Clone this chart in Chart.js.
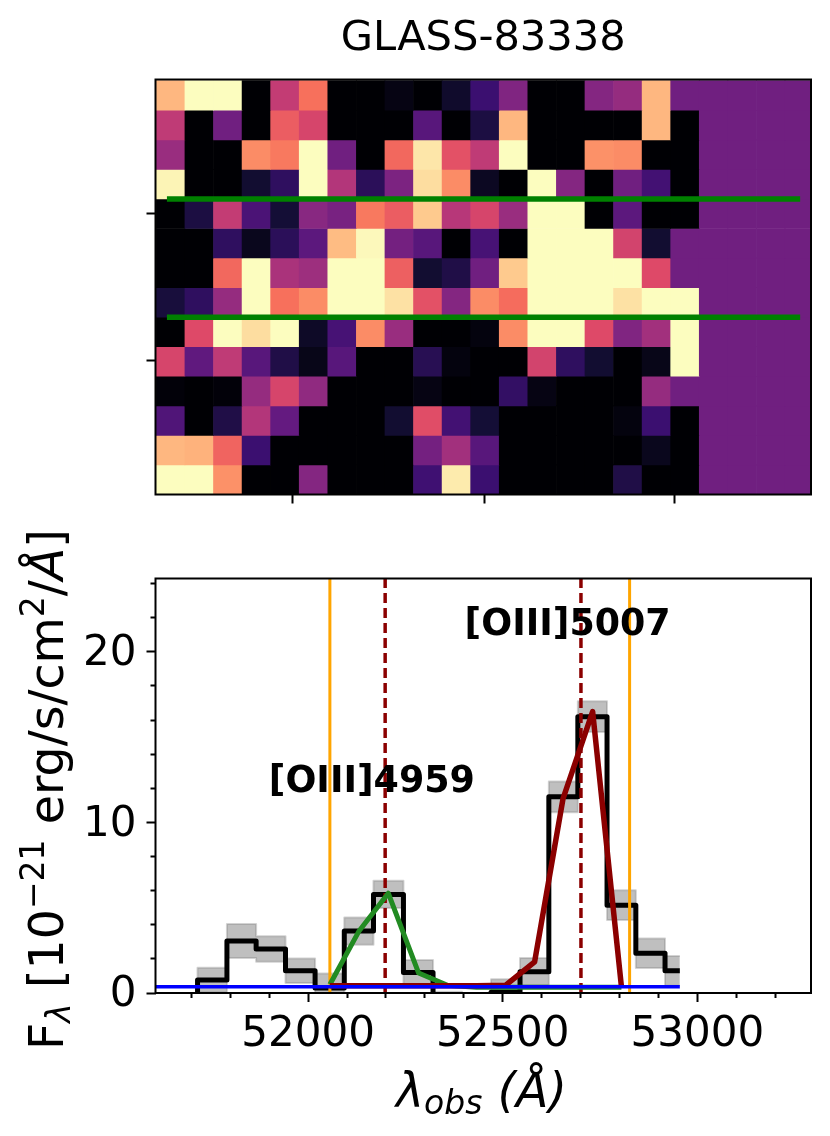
<!DOCTYPE html>
<html>
<head>
<meta charset="utf-8">
<style>
    html, body { margin: 0; padding: 0; background: #fff; }
    #wrap { position: relative; width: 830px; height: 1136px; overflow: hidden; }
    canvas { position: absolute; left: 0; display: block; }
</style>
</head>
<body>
<div id="wrap">
    <canvas id="imageChart" width="830" height="530" style="top:0"></canvas>
    <canvas id="specChart" width="830" height="606" style="top:530px"></canvas>
</div>
<script src="https://cdn.jsdelivr.net/npm/chart.js@4"></script>
<script>
const chartTitle = 'GLASS-83338';

// 2D spectrum cutout, normalised 0-1, top row first
const cutoutRows = [
    [.85, 1, 1, 0, .53, .70, 0, 0, .03, 0, .08, .20, .37, 0, 0, .38, .42, .85, .33, .33, .33, .33, .33],
    [.52, 0, .33, 0, .65, .58, 0, 0, 0, .27, 0, .12, .85, 0, 0, 0, 0, .85, 0, .33, .33, .33, .33],
    [.43, 0, 0, .76, .72, 1, .33, 0, .68, .95, .62, .52, 1, 0, 0, .77, .76, 0, 0, .33, .33, .33, .33],
    [.98, 0, 0, .09, .17, 1, .49, .16, .36, .93, .76, .06, 0, 1, .38, 0, .33, .22, 0, .33, .33, .33, .33],
    [0, .12, .53, .24, .10, .39, .35, .72, .65, .89, .50, .58, .43, 1, 1, 0, .28, 0, 0, .33, .33, .33, .33],
    [0, 0, .17, .05, .16, .28, .86, .99, .34, .27, 0, .23, 0, 1, 1, 1, .57, .09, .33, .33, .33, .33, .33],
    [0, 0, .68, 1, .47, .44, 1, 1, .66, .09, .13, .33, .89, 1, 1, 1, 1, .60, .33, .33, .33, .33, .33],
    [.11, .17, .42, 1, .70, .76, 1, 1, .94, .62, .38, .76, .69, 1, 1, 1, .94, 1, 1, .33, .33, .33, .33],
    [0, .60, 1, .93, 1, .07, .23, .76, .43, 0, 0, .02, .76, 1, 1, .60, .37, .45, 1, .33, .33, .33, .33],
    [.58, .29, .52, .27, .13, .04, .27, 0, 0, .15, .02, 0, 0, .57, .17, .09, 0, .04, 1, .33, .33, .33, .33],
    [.01, 0, .01, .42, .58, .41, 0, 0, 0, .03, 0, 0, .18, .03, 0, 0, 0, .42, .33, .33, .33, .33, .33],
    [.25, 0, .13, .49, .30, 0, 0, 0, .09, .61, .22, .10, 0, 0, 0, 0, .02, .20, 0, .33, .33, .33, .33],
    [.85, .84, .67, .20, 0, 0, 0, 0, 0, .34, .45, .27, 0, 0, 0, 0, 0, .05, 0, .33, .33, .33, .33],
    [1, 1, .77, 0, 0, .38, 0, 0, 0, .21, .96, .20, 0, 0, 0, 0, .13, 0, 0, .33, .33, .33, .33]
];
const magmaStops = ['#000004', '#140e36', '#3b0f70', '#641a80', '#8c2981', '#b73779', '#de4968', '#f7705c', '#fe9f6d', '#fecf92', '#fcfdbf'];

const apertureRows = [4, 8];
const apertureStart = 0.37;
const apertureEnd = 22.53;
const cutoutTicksX = [4.78, 11.47, 18.12];
const cutoutTicksY = [4.48, 9.45];

// 1D spectrum
const wave = [51678, 51754, 51829, 51904, 51980, 52056, 52130, 52206, 52284, 52358, 52433, 52507, 52582, 52655, 52731, 52805, 52879, 52955];
const flux = [-1.5, 0.76, 3.05, 2.58, 1.3, 0.3, 3.63, 5.78, 1.2, -0.7, -1, 0.05, 1.25, 11.5, 16.2, 5.15, 2.33, 1.3];
const fluxErr = [0.7, 0.72, 1.0, 0.75, 0.72, 0.85, 0.8, 0.8, 0.73, 0.78, 0.8, 0.75, 0.8, 0.9, 0.9, 0.87, 0.87, 0.87];

const modelWave = [52056, 52130, 52206, 52284, 52358, 52433, 52507, 52582, 52655, 52731, 52805];
const model4959 = [0.5, 3.6, 5.85, 1.17, 0.45, 0.33, 0.33, 0.33, 0.33, 0.33, 0.33];
const model5007 = [0.42, 0.42, 0.42, 0.42, 0.42, 0.42, 0.45, 1.83, 11.4, 16.5, 0.37];

const continuumWave = [51600, 52955];
const continuumLevel = [0.37, 0.37];

const windowEdges = [52056, 52826];
const lineCenters = [52198, 52701];
const lineNames = ['[OIII]4959', '[OIII]5007'];
const lineNameX = [51899, 52402];
const lineNameY = [11.8, 21.0];

const xMajor = [52000, 52500, 53000];
const xMinor = [51700, 51800, 51900, 52100, 52200, 52300, 52400, 52600, 52700, 52800, 52900, 53100, 53200];
const yMajor = [0, 10, 20];
const yMinor = [2, 4, 6, 8, 12, 14, 16, 18, 22, 24];

const FONT = '"DejaVu Sans"';

function magma(v) {
    const pos = Math.min(Math.max(v, 0), 1) * (magmaStops.length - 1);
    const i = Math.min(Math.floor(pos), magmaStops.length - 2);
    const t = pos - i;
    const a = parseInt(magmaStops[i].slice(1), 16);
    const b = parseInt(magmaStops[i + 1].slice(1), 16);
    const mix = shift => Math.round(((a >> shift) & 255) * (1 - t) + ((b >> shift) & 255) * t);
    return `rgb(${mix(16)},${mix(8)},${mix(0)})`;
}

function pairs(xs, ys) {
    return xs.map((x, i) => ({ x: x, y: ys[i] }));
}

// axis that only draws tick marks; size is the room it keeps outside the plot
function tickAxis(position, min, max, values, length, size, extra) {
    const horizontal = position === 'bottom';
    return Object.assign({
        type: 'linear',
        position: position,
        min: min,
        max: max,
        offset: false,
        afterBuildTicks: axis => { axis.ticks = values.map(v => ({ value: v })); },
        afterFit: axis => {
            if (horizontal) axis.height = size; else axis.width = size;
        },
        grid: { offset: false, drawOnChartArea: false, drawTicks: true, tickLength: length, tickWidth: 2, tickColor: '#000' },
        border: { display: false },
        ticks: { display: false }
    }, extra || {});
}

const framePlugin = {
    id: 'frame',
    afterDraw(chart) {
        const a = chart.chartArea, ctx = chart.ctx;
        ctx.save();
        ctx.strokeStyle = '#000';
        ctx.lineWidth = 2;
        ctx.strokeRect(a.left, a.top, a.right - a.left, a.bottom - a.top);
        ctx.restore();
    }
};

// mathtext-like runs of text, one after the other along the baseline
function drawRuns(ctx, x, y, angle, runs) {
    ctx.save();
    ctx.translate(x, y);
    ctx.rotate(angle);
    ctx.fillStyle = '#000';
    ctx.textBaseline = 'alphabetic';
    ctx.textAlign = 'left';
    let pen = 0;
    runs.forEach(r => {
        ctx.font = `${r.italic ? 'italic ' : ''}${r.size}px ${FONT}`;
        ctx.fillText(r.text, pen, r.dy || 0);
        pen += ctx.measureText(r.text).width;
    });
    ctx.restore();
}

const specText = {
    id: 'specText',
    afterDraw(chart) {
        const ctx = chart.ctx, sx = chart.scales.x, sy = chart.scales.y;
        ctx.save();
        ctx.fillStyle = '#000';
        ctx.font = `bold 36.4px ${FONT}`;
        ctx.textBaseline = 'alphabetic';
        lineNames.forEach((name, i) => {
            ctx.fillText(name, sx.getPixelForValue(lineNameX[i]), sy.getPixelForValue(lineNameY[i]));
        });
        ctx.restore();

        drawRuns(ctx, 396, 577, 0, [
            { text: '\u03bb', size: 47.5, italic: true },
            { text: 'obs', size: 33, italic: true, dy: 7 },
            { text: ' (\u00c5)', size: 47.5, italic: true }
        ]);
        drawRuns(ctx, 63, 520, -Math.PI / 2, [
            { text: 'F', size: 47.5 },
            { text: '\u03bb', size: 33, italic: true, dy: 7 },
            { text: ' [10', size: 47.5 },
            { text: '\u221221', size: 33, dy: -19 },
            { text: ' erg/s/cm', size: 47.5 },
            { text: '2', size: 33, dy: -19 },
            { text: '/', size: 47.5 },
            { text: '\u00c5', size: 47.5, italic: true },
            { text: ']', size: 47.5 }
        ]);
    }
};

function renderCutout() {
    const ctx = document.getElementById('imageChart').getContext('2d');
    const lines = apertureRows.map(row => ({
        type: 'line',
        data: pairs([apertureStart, apertureEnd], [row, row]),
        borderColor: '#008000',
        borderWidth: 5.5,
        pointRadius: 0,
        borderCapStyle: 'butt'
    }));
    // each row is one dataset of floating bars, y runs top to bottom like the image rows
    const bars = cutoutRows.map((row, r) => ({
        type: 'bar',
        grouped: false,
        data: row.map((_, c) => ({ x: c + 0.5, y: [r, r + 1] })),
        backgroundColor: row.map(magma),
        borderWidth: 0,
        barPercentage: 1,
        categoryPercentage: 1
    }));

    new Chart(ctx, {
        data: { datasets: lines.concat(bars) },
        options: {
            responsive: false,
            animation: false,
            layout: { padding: { left: 155.5, right: 19, top: 0, bottom: 35.5 } },
            plugins: {
                legend: { display: false },
                tooltip: { enabled: false },
                title: {
                    display: true,
                    text: chartTitle,
                    color: '#000',
                    fullSize: false,
                    font: { family: FONT, size: 41.6, weight: 'normal', lineHeight: 1.2 },
                    padding: { top: 14, bottom: 15.6 }
                }
            },
            scales: {
                x: tickAxis('bottom', -0.03, 22.91, cutoutTicksX, 9, 0),
                y: tickAxis('left', -0.04, 14, cutoutTicksY, 9, 0, { reverse: true })
            }
        },
        plugins: [framePlugin]
    });
}

function renderSpectrum() {
    const ctx = document.getElementById('specChart').getContext('2d');
    const base = { pointRadius: 0, fill: false, clip: 0, borderJoinStyle: 'round' };
    const vertical = (x, color, width, dash) => Object.assign({}, base, {
        data: pairs([x, x], [0, 24.3]),
        borderColor: color,
        borderWidth: width,
        borderDash: dash || []
    });

    // first dataset ends up on top
    const datasets = [
        Object.assign({}, base, { data: pairs(continuumWave, continuumLevel), borderColor: '#0000ff', borderWidth: 3.5 }),
        Object.assign({}, base, { data: pairs(modelWave, model5007), borderColor: '#8b0000', borderWidth: 5.5 }),
        Object.assign({}, base, { data: pairs(modelWave, model4959), borderColor: '#228b22', borderWidth: 5 }),
        vertical(lineCenters[0], '#8b0000', 3.5, [10, 5]),
        vertical(lineCenters[1], '#8b0000', 3.5, [10, 5]),
        vertical(windowEdges[0], '#ffa500', 3),
        vertical(windowEdges[1], '#ffa500', 3),
        Object.assign({}, base, { data: pairs(wave, flux), borderColor: '#000', borderWidth: 5, stepped: 'middle' }),
        Object.assign({}, base, {
            data: pairs(wave, flux.map((f, i) => f + fluxErr[i])),
            borderColor: 'rgba(128,128,128,0.35)',
            backgroundColor: 'rgba(128,128,128,0.5)',
            borderWidth: 2,
            stepped: 'middle',
            fill: '+1'
        }),
        Object.assign({}, base, {
            data: pairs(wave, flux.map((f, i) => f - fluxErr[i])),
            borderColor: 'rgba(128,128,128,0.35)',
            borderWidth: 2,
            stepped: 'middle'
        })
    ];

    new Chart(ctx, {
        type: 'line',
        data: { datasets: datasets },
        options: {
            responsive: false,
            animation: false,
            layout: { padding: { left: 0, right: 19, top: 48.5, bottom: 0 } },
            plugins: { legend: { display: false }, tooltip: { enabled: false } },
            scales: {
                x: tickAxis('bottom', 51608, 53292, xMajor, 9, 143, {
                    ticks: {
                        display: true, color: '#000', padding: 8, maxRotation: 0, autoSkip: false,
                        font: { family: FONT, size: 42 },
                        callback: v => String(v)
                    }
                }),
                xMinorTicks: tickAxis('bottom', 51608, 53292, xMinor, 5, 0, { axis: 'x', weight: -1 }),
                y: tickAxis('left', 0, 24.3, yMajor, 9, 155.5, {
                    ticks: {
                        display: true, color: '#000', padding: 10, autoSkip: false, labelOffset: 2.5,
                        font: { family: FONT, size: 42 },
                        callback: v => String(v)
                    }
                }),
                yMinorTicks: tickAxis('left', 0, 24.3, yMinor, 5, 0, { axis: 'y', weight: -1 })
            }
        },
        plugins: [framePlugin, specText]
    });
}

document.fonts.load(`40px ${FONT}`).finally(() => {
    renderCutout();
    renderSpectrum();
});
</script>
</body>
</html>
